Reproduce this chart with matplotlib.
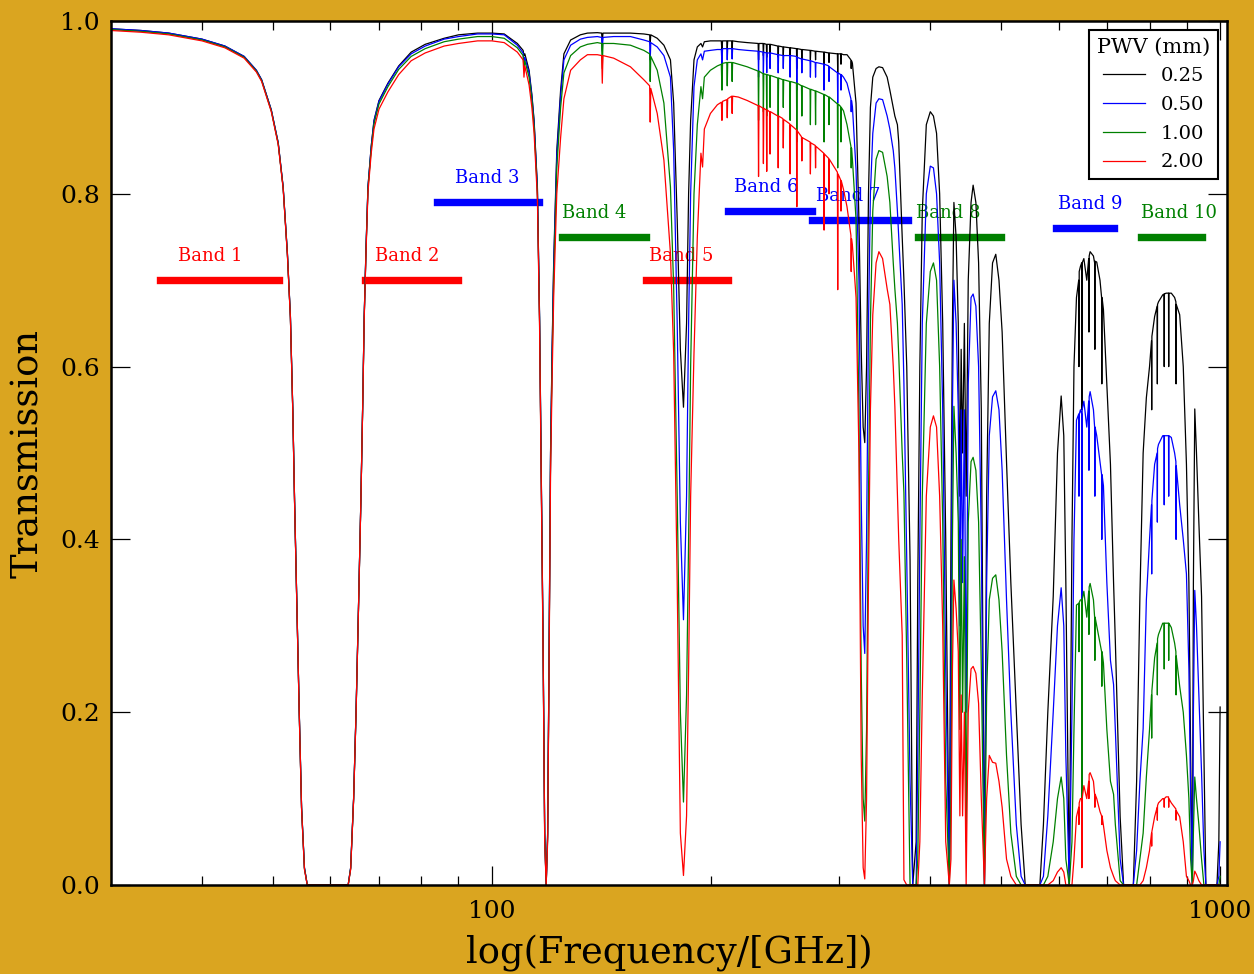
import matplotlib
matplotlib.use("Agg")
import matplotlib.pyplot as plt
from matplotlib.ticker import NullFormatter

# ---------------- data ----------------
freq_ghz = [
    30.0, 33.0, 36.0, 40.0, 43.0, 45.7, 47.5, 48.3, 49.8, 50.9,
    51.7, 52.4, 52.9, 53.3, 53.6, 54.0, 54.4, 54.8, 55.3, 55.8,
    63.5, 64.0, 64.6, 65.1, 65.6, 66.1, 66.5, 66.8, 67.2, 67.6,
    68.3, 68.9, 70.0, 72.0, 74.5, 77.5, 81.0, 86.0, 90.0, 95.6,
    100.0, 104.0, 108.4, 110.4, 110.7, 111.0, 112.5, 113.5, 114.3, 115.5,
    116.3, 117.0, 117.6, 118.2, 118.75, 119.3, 119.8, 120.4, 121.0, 121.6,
    122.8, 124.3, 125.6, 128.3, 132.3, 135.3, 139.6, 141.5, 141.8, 142.1,
    147.0, 155.0, 161.7, 164.7, 165.0, 165.3, 168.7, 172.3, 175.9, 177.7,
    179.7, 181.5, 183.3, 185.1, 186.3, 187.5, 189.5, 191.5, 193.7, 194.7,
    195.8, 199.6, 204.0, 206.6, 207.0, 207.4, 210.2, 210.5, 210.8, 213.5,
    213.8, 214.1, 218.0, 224.2, 232.1, 232.4, 232.7, 235.7, 236.0, 236.3,
    238.2, 238.5, 238.8, 240.7, 241.0, 241.3, 247.0, 247.3, 247.6, 251.0,
    251.3, 251.6, 256.5, 256.8, 257.1, 262.0, 262.3, 262.6, 266.2, 266.5,
    266.8, 273.5, 273.8, 274.1, 278.0, 278.3, 278.6, 285.6, 285.9, 286.2,
    290.1, 290.4, 290.7, 298.2, 298.5, 298.8, 301.3, 301.6, 301.9, 304.0,
    307.4, 311.2, 311.5, 311.8, 312.7, 316.3, 319.2, 321.5, 323.5, 325.15,
    327.0, 329.0, 331.0, 333.5, 337.0, 340.0, 344.0, 349.0, 352.0, 355.8,
    357.6, 360.5, 362.0, 366.0, 368.0, 371.3, 375.2, 378.4, 382.5, 384.5,
    387.0, 390.0, 395.0, 400.0, 404.0, 408.0, 412.0, 416.0, 420.0, 424.8,
    427.0, 429.0, 431.0, 434.0, 437.0, 439.2, 441.0, 443.0, 445.5, 448.0,
    451.0, 455.0, 458.0, 462.0, 466.0, 470.0, 474.7, 478.0, 482.0, 487.0,
    492.0, 497.0, 502.0, 509.0, 516.0, 525.0, 533.0, 540.0, 565.6, 572.0,
    580.0, 590.0, 598.0, 605.0, 610.0, 614.0, 620.7, 626.0, 630.0, 635.0,
    639.5, 640.0, 640.5, 643.0, 645.5, 646.0, 646.5, 650.0, 656.0, 660.0,
    660.5, 661.0, 663.0, 670.0, 672.5, 673.0, 673.5, 677.0, 684.0, 687.5,
    688.0, 688.5,
    691.5, 699.0, 707.0, 714.0, 718.0, 729.0, 737.0, 760.0, 768.0, 776.0,
    784.0, 792.0, 800.0, 805.0, 805.5, 806.0, 813.0, 819.5, 820.0, 820.5,
    823.0, 834.0, 837.5, 838.0, 838.5, 843.0, 849.5, 850.0, 850.5, 857.0,
    866.0, 869.5, 870.0, 870.5, 880.0,
    890.0, 899.0, 906.0, 911.0, 916.0, 919.0, 923.0, 928.0, 935.0, 943.0,
    950.0, 956.0, 990.0, 996.0, 1000.0,
]

trans_pwv025 = [
    .991, .989, .986, .979, .971, .959, .943, .932, .897, .859,
    .808, .731, .658, .550, .445, .320, .200, .090, .020, .000,
    .000, .020, .100, .200, .320, .445, .560, .658, .740, .808,
    .855, .885, .908, .928, .948, .964, .973, .980, .984, .986,
    .986, .985, .974, .966, .960, .962, .943, .915, .885, .808,
    .658, .450, .280, .060, .000, .060, .250, .500, .620, .720,
    .850, .920, .962, .978, .984, .986, .9865, .986, .975, .986,
    .986, .986, .985, .984, .975, .984, .980, .972, .955, .905,
    .770, .620, .553, .650, .800, .885, .955, .970, .974, .970,
    .976, .977, .977, .977, .965, .977, .977, .968, .977, .977,
    .968, .977, .976, .975, .974, .955, .974, .974, .960, .974,
    .973, .958, .973, .973, .960, .973, .971, .958, .971, .970,
    .960, .970, .969, .955, .969, .968, .945, .968, .967, .955,
    .967, .966, .955, .966, .965, .955, .965, .964, .945, .964,
    .963, .952, .963, .962, .940, .962, .962, .950, .962, .961,
    .961, .955, .945, .954, .951, .905, .770, .620, .530, .512,
    .600, .800, .900, .935, .945, .947, .946, .935, .920, .900,
    .890, .880, .860, .750, .700, .600, .377, .000, .050, .350,
    .600, .780, .880, .895, .890, .870, .800, .650, .400, .000,
    .400, .650, .790, .750, .650, .450, .620, .500, .650, .450,
    .700, .790, .810, .790, .720, .550, .000, .450, .650, .720,
    .730, .700, .640, .490, .350, .200, .070, .000, .000, .070,
    .200, .334, .500, .566, .520, .350, .000, .400, .600, .680,
    .700, .600, .710, .716, .720, .550, .720, .725, .700, .725,
    .640, .728, .733, .728, .720, .620, .722, .721, .700, .680,
    .580, .680,
    .666, .580, .487, .350, .282, .079, .000, .000, .120, .334,
    .500, .564, .600, .630, .550, .635, .658, .670, .580, .672,
    .675, .683, .684, .600, .684, .685, .685, .600, .685, .685,
    .680, .675, .580, .672, .660,
    .600, .487, .350, .150, .000, .350, .551, .500, .420, .334,
    .150, .000, .000, .050, .206,
]

trans_pwv050 = [
    .991, .989, .986, .979, .971, .959, .943, .932, .897, .859,
    .808, .731, .658, .550, .445, .320, .200, .090, .020, .000,
    .000, .020, .100, .200, .320, .445, .560, .658, .740, .808,
    .855, .884, .907, .927, .947, .962, .971, .979, .982, .985,
    .985, .984, .972, .963, .952, .958, .940, .913, .883, .806,
    .656, .448, .278, .058, .000, .058, .248, .497, .615, .714,
    .843, .913, .955, .972, .979, .981, .982, .981, .965, .981,
    .982, .982, .978, .976, .955, .975, .970, .960, .935, .850,
    .650, .420, .307, .450, .650, .800, .924, .955, .962, .955,
    .965, .966, .967, .967, .950, .968, .968, .955, .968, .968,
    .956, .968, .967, .966, .965, .935, .965, .964, .940, .964,
    .963, .940, .963, .963, .945, .963, .961, .940, .961, .960,
    .945, .960, .960, .935, .960, .959, .920, .958, .956, .940,
    .956, .954, .935, .954, .952, .935, .952, .950, .920, .950,
    .948, .930, .947, .940, .905, .940, .938, .920, .938, .935,
    .928, .910, .895, .908, .901, .828, .700, .450, .300, .268,
    .400, .650, .800, .870, .905, .910, .909, .890, .875, .850,
    .830, .780, .750, .672, .580, .377, .120, .000, .000, .150,
    .400, .650, .800, .832, .830, .800, .720, .550, .250, .000,
    .250, .550, .700, .650, .550, .300, .550, .350, .550, .200,
    .580, .680, .684, .670, .600, .400, .000, .350, .520, .565,
    .572, .550, .480, .330, .200, .070, .010, .000, .000, .010,
    .080, .200, .300, .344, .300, .150, .000, .200, .400, .538,
    .545, .450, .545, .550, .545, .300, .550, .560, .530, .560,
    .480, .565, .571, .550, .530, .450, .530, .520, .490, .475,
    .400, .475,
    .462, .350, .260, .232, .180, .030, .000, .000, .040, .120,
    .181, .330, .400, .440, .360, .445, .487, .500, .420, .505,
    .510, .520, .520, .440, .520, .520, .520, .450, .520, .518,
    .500, .490, .400, .485, .440,
    .400, .360, .250, .100, .000, .200, .341, .300, .220, .130,
    .040, .000, .000, .010, .050,
]

trans_pwv100 = [
    .990, .988, .985, .978, .970, .958, .942, .931, .896, .858,
    .807, .730, .657, .549, .444, .319, .199, .089, .019, .000,
    .000, .019, .099, .199, .319, .444, .559, .657, .738, .806,
    .852, .881, .904, .924, .944, .959, .968, .976, .979, .982,
    .982, .980, .969, .960, .945, .954, .935, .909, .879, .802,
    .652, .444, .274, .055, .000, .055, .244, .490, .605, .702,
    .830, .900, .940, .960, .970, .973, .975, .974, .945, .974,
    .974, .972, .966, .962, .930, .959, .943, .905, .808, .692,
    .450, .200, .096, .220, .400, .600, .800, .880, .924, .910,
    .935, .943, .948, .950, .920, .951, .952, .925, .952, .952,
    .930, .952, .950, .947, .942, .885, .942, .939, .895, .939,
    .938, .890, .938, .937, .900, .937, .934, .890, .934, .932,
    .900, .932, .930, .885, .930, .928, .860, .928, .925, .890,
    .925, .921, .880, .921, .919, .880, .919, .915, .860, .915,
    .912, .880, .912, .904, .830, .904, .901, .860, .900, .896,
    .880, .855, .830, .853, .840, .770, .550, .250, .100, .074,
    .180, .450, .650, .780, .840, .850, .848, .820, .790, .720,
    .690, .650, .613, .500, .454, .260, .000, .000, .000, .030,
    .200, .450, .650, .710, .720, .700, .600, .420, .120, .000,
    .100, .400, .554, .500, .420, .180, .400, .200, .380, .050,
    .420, .490, .495, .480, .420, .250, .000, .220, .330, .355,
    .359, .330, .270, .150, .060, .010, .000, .000, .000, .000,
    .010, .050, .100, .125, .100, .030, .000, .050, .180, .324,
    .326, .270, .327, .330, .330, .050, .330, .340, .310, .340,
    .290, .345, .349, .330, .310, .260, .310, .300, .280, .270,
    .230, .270,
    .257, .180, .120, .105, .070, .005, .000, .000, .000, .030,
    .060, .125, .180, .220, .170, .225, .263, .280, .220, .285,
    .290, .303, .303, .250, .303, .303, .303, .260, .303, .298,
    .280, .270, .220, .265, .230,
    .200, .150, .100, .030, .000, .060, .125, .100, .070, .030,
    .000, .000, .000, .000, .010,
]

trans_pwv200 = [
    .989, .987, .984, .977, .969, .957, .941, .930, .895, .857,
    .806, .729, .656, .548, .443, .318, .198, .088, .018, .000,
    .000, .018, .098, .198, .318, .443, .558, .655, .735, .802,
    .847, .875, .898, .918, .938, .954, .963, .971, .974, .977,
    .977, .975, .964, .955, .935, .948, .926, .900, .870, .795,
    .645, .437, .268, .050, .000, .050, .235, .475, .585, .680,
    .800, .865, .910, .943, .955, .961, .961, .960, .928, .960,
    .957, .947, .932, .925, .883, .922, .893, .839, .731, .616,
    .350, .060, .011, .080, .250, .450, .616, .750, .847, .831,
    .875, .893, .903, .906, .885, .907, .909, .888, .910, .913,
    .893, .913, .912, .908, .902, .820, .902, .899, .835, .899,
    .897, .826, .897, .895, .846, .895, .890, .830, .890, .887,
    .853, .886, .881, .823, .880, .874, .785, .873, .866, .838,
    .865, .860, .823, .859, .856, .830, .855, .847, .758, .846,
    .841, .800, .840, .825, .689, .823, .816, .780, .815, .805,
    .785, .752, .710, .748, .740, .680, .500, .150, .020, .007,
    .100, .350, .550, .660, .720, .733, .725, .690, .672, .600,
    .554, .450, .400, .289, .006, .000, .000, .000, .000, .000,
    .050, .220, .450, .530, .543, .530, .450, .300, .050, .000,
    .030, .250, .353, .320, .270, .080, .220, .080, .200, .000,
    .200, .250, .253, .245, .210, .100, .000, .100, .150, .142,
    .141, .120, .090, .030, .010, .000, .000, .000, .000, .000,
    .000, .005, .015, .020, .015, .000, .000, .000, .030, .079,
    .090, .070, .095, .100, .100, .020, .100, .115, .100, .120,
    .100, .128, .130, .120, .105, .090, .105, .100, .085, .080,
    .070, .080,
    .069, .040, .020, .010, .005, .000, .000, .000, .000, .000,
    .005, .020, .040, .060, .045, .062, .079, .090, .075, .092,
    .095, .100, .100, .090, .100, .102, .102, .090, .100, .095,
    .090, .088, .075, .086, .079,
    .050, .010, .005, .000, .000, .005, .016, .012, .005, .000,
    .000, .000, .000, .000, .000,
]

pwv_labels = ["0.25", "0.50", "1.00", "2.00"]
pwv_colors = ["black", "blue", "green", "red"]

band_names = ["Band 1", "Band 2", "Band 3", "Band 4", "Band 5",
              "Band 6", "Band 7", "Band 8", "Band 9", "Band 10"]
band_lo = [35, 67, 84, 125, 163, 211, 275, 385, 596, 778]
band_hi = [51, 90, 116, 163, 211, 275, 373, 500, 716, 944]
band_level = [0.70, 0.70, 0.79, 0.75, 0.70, 0.78, 0.77, 0.75, 0.76, 0.75]
band_label_freq = [41.0, 76.5, 98.6, 138.0, 182.0, 238.0, 309.0, 424.0, 664.0, 877.0]
band_colors = ["red", "red", "blue", "green", "red",
               "blue", "blue", "green", "blue", "green"]

series = [trans_pwv025, trans_pwv050, trans_pwv100, trans_pwv200]
for s in series:
    assert len(s) == len(freq_ghz), (len(s), len(freq_ghz))

# ---------------- drawing ----------------
plt.rcParams["font.family"] = ["DejaVu Serif"]
plt.rcParams["mathtext.fontset"] = "dejavuserif"

W, H = 1254, 974
fig = plt.figure(figsize=(W / 100, H / 100), dpi=100, facecolor="#DAA520")
ax = fig.add_axes([111 / W, 1 - 885 / H, (1227 - 111) / W, (885 - 21) / H])
ax.set_facecolor("white")

for name, lo, hi, lev, lf, c in zip(band_names, band_lo, band_hi, band_level,
                                    band_label_freq, band_colors):
    ax.plot([lo, hi], [lev, lev], color=c, lw=5.3, solid_capstyle="projecting", zorder=1)
    ax.text(lf, lev + 0.028, name, color=c, fontsize=13, ha="center", va="center", zorder=1)

for s, lab, c in zip(series, pwv_labels, pwv_colors):
    ax.plot(freq_ghz, s, color=c, lw=0.9, label=lab, zorder=2)

ax.set_xscale("log")
ax.set_xlim(30, 1022)
ax.set_ylim(0, 1)
ax.set_xticks([100, 1000])
ax.set_xticklabels(["100", "1000"])
ax.set_xticks([40, 50, 60, 70, 80, 90, 200, 300, 400, 500, 600, 700, 800, 900], minor=True)
ax.xaxis.set_minor_formatter(NullFormatter())
ax.set_yticks([0.0, 0.2, 0.4, 0.6, 0.8, 1.0])
ax.set_yticklabels(["0.0", "0.2", "0.4", "0.6", "0.8", "1.0"])
ax.tick_params(which="both", direction="in", top=True, right=True, labelsize=18,
               color="black", width=0.9)
ax.tick_params(which="major", length=14)
ax.tick_params(which="minor", length=6.5)
ax.tick_params(axis="x", which="major", pad=11)
ax.tick_params(axis="y", which="major", pad=8)
for sp in ax.spines.values():
    sp.set_linewidth(1.8)
    sp.set_color("black")

ax.set_xlabel("log(Frequency/[GHz])", fontsize=26.5, labelpad=8)
ax.set_ylabel("Transmission", fontsize=26.5, labelpad=10)

leg = ax.legend(loc="upper right", title="PWV (mm)", fontsize=14, title_fontsize=15,
                fancybox=False, framealpha=1, edgecolor="black", handlelength=2.15,
                labelspacing=0.55, borderaxespad=0.45)
leg.get_frame().set_linewidth(1.5)

fig.savefig("out.png", dpi=100, facecolor=fig.get_facecolor())
